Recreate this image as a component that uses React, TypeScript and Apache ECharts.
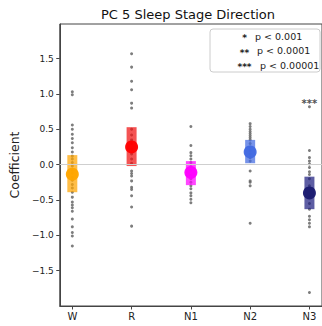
import React, { useEffect, useRef } from "react";
import * as echarts from "echarts";

const categories = ["W", "R", "N1", "N2", "N3"];
const meanColors = ["#FFA500", "#FF0000", "#FF00FF", "#4169E1", "#191970"];
const boxColors = ["#FFA500", "#F01010", "#FF00FF", "#4169E1", "#1E1E80"];

const dotsW = [1.03, 0.99, 0.56, 0.5, 0.43, 0.37, 0.31, 0.24, 0.18, 0.12, 0.08, 0.03, -0.02, -0.08, -0.12, -0.18, -0.22, -0.28, -0.33, -0.39, -0.46, -0.53, -0.57, -0.61, -0.66, -0.77, -0.88, -0.96, -1.01, -1.15];
const dotsR = [1.57, 1.38, 1.18, 1.06, 0.87, 0.8, 0.5, 0.42, 0.35, 0.3, 0.22, 0.15, 0.08, 0.02, -0.09, -0.125, -0.16, -0.23, -0.32, -0.35, -0.44, -0.6, -0.87];
const dotsN1 = [0.54, 0.27, 0.17, 0.125, 0.08, 0.03, -0.03, -0.08, -0.15, -0.2, -0.25, -0.3, -0.34, -0.4, -0.44, -0.49, -0.54];
const dotsN2 = [0.58, 0.54, 0.5, 0.47, 0.44, 0.41, 0.38, 0.35, 0.3, 0.25, 0.2, 0.15, 0.1, 0.05, -0.09, -0.23, -0.25, -0.3, -0.83];
const dotsN3 = [0.82, 0.2, 0.1, 0.05, 0.01, -0.04, -0.1, -0.14, -0.2, -0.3, -0.45, -0.55, -0.63, -0.73, -0.78, -0.83, -0.88, -1.81];
const allDots = [dotsW, dotsR, dotsN1, dotsN2, dotsN3];

const boxLow = [-0.39, -0.02, -0.29, 0.02, -0.63];
const boxHigh = [0.135, 0.53, 0.05, 0.35, -0.17];
const means = [-0.135, 0.25, -0.11, 0.18, -0.4];

const sigMarks = [{ cat: 4, y: 0.86, text: "***" }];
const legendStars = ["*", "**", "***"];
const legendLabels = ["p < 0.001", "p < 0.0001", "p < 0.00001"];

const yTicks = [-1.5, -1, -0.5, 0, 0.5, 1, 1.5];
const FONT = "DejaVu Sans";

export default function App() {
  const ref = useRef<HTMLDivElement>(null);
  useEffect(() => {
    if (!ref.current) return;
    const chart = echarts.init(ref.current, null, { renderer: "svg" });
    const dotData: number[][] = [];
    allDots.forEach((arr, i) => arr.forEach((v) => dotData.push([i, v])));
    const boxData = categories.map((_, i) => [i, boxLow[i], boxHigh[i]]);
    const meanData = categories.map((_, i) => ({
      value: [i, means[i]],
      itemStyle: { color: meanColors[i], opacity: 0.95 },
    }));
    const legendGraphics: any[] = [
      {
        type: "rect",
        shape: { x: 210, y: 29, width: 110, height: 43, r: 3 },
        style: { fill: "rgba(255,255,255,0.85)", stroke: "#cccccc", lineWidth: 1 },
        z: 100,
      },
    ];
    const pX = [255, 257, 260];
    legendStars.forEach((s, i) => {
      legendGraphics.push({
        type: "text",
        x: 244.5,
        y: 38 + i * 14.5,
        z: 101,
        style: { text: s, fontSize: 9, fontWeight: "bold", fontFamily: FONT, fill: "#222", align: "center", verticalAlign: "middle" },
      });
      legendGraphics.push({
        type: "text",
        x: pX[i],
        y: 36 + i * 14.5,
        z: 101,
        style: { text: legendLabels[i], fontSize: 9.5, fontFamily: FONT, fill: "#222", align: "left", verticalAlign: "middle" },
      });
    });
    chart.setOption({
      animation: false,
      backgroundColor: "#ffffff",
      textStyle: { fontFamily: FONT },
      graphic: [
        {
          type: "text",
          x: 188,
          y: 14,
          style: { text: "PC 5 Sleep Stage Direction", fontSize: 13, fontFamily: FONT, fill: "#111", align: "center", verticalAlign: "middle" },
        },
        ...legendGraphics,
      ],
      grid: { left: 53, right: -2, top: 24, bottom: 20, show: true, borderColor: "#444", borderWidth: 1, backgroundColor: "transparent" },
      xAxis: {
        type: "value",
        min: -0.212,
        max: 4.212,
        splitLine: { show: false },
        axisLine: { show: true, onZero: false, lineStyle: { color: "#444", width: 1 } },
        axisTick: { show: true, customValues: [0, 1, 2, 3, 4], length: 3.5, lineStyle: { color: "#444" } },
        axisLabel: {
          customValues: [0, 1, 2, 3, 4],
          formatter: (v: number) => categories[Math.round(v)] ?? "",
          fontSize: 10,
          color: "#222",
          margin: 5,
          fontFamily: FONT,
        },
      },
      yAxis: {
        type: "value",
        min: -2.0,
        max: 1.99,
        name: "Coefficient",
        nameLocation: "middle",
        nameRotate: 90,
        nameGap: 38,
        nameTextStyle: { fontSize: 12.5, color: "#222", fontFamily: FONT },
        splitLine: { show: false },
        axisLine: { show: true, onZero: false, lineStyle: { color: "#444", width: 1 } },
        axisTick: { show: true, customValues: yTicks, length: 3.5, lineStyle: { color: "#444" } },
        axisLabel: {
          customValues: yTicks,
          formatter: (v: number) => (v < 0 ? "\u2212" : "") + Math.abs(v).toFixed(1),
          fontSize: 9,
          color: "#222",
          margin: 6,
          fontFamily: FONT,
        },
      },
      series: [
        {
          type: "scatter",
          data: dotData,
          symbolSize: 3,
          itemStyle: { color: "#666666", opacity: 0.85 },
          z: 2,
          markLine: {
            silent: true,
            symbol: "none",
            label: { show: false },
            lineStyle: { color: "#cfcfcf", width: 1, type: "solid" },
            data: [{ yAxis: 0 }],
          },
        },
        {
          type: "custom",
          data: boxData,
          z: 3,
          renderItem: (params: any, api: any) => {
            const x = api.value(0);
            const lo = api.coord([x, api.value(1)]);
            const hi = api.coord([x, api.value(2)]);
            return {
              type: "rect",
              shape: { x: lo[0] - 5, y: hi[1], width: 10, height: lo[1] - hi[1] },
              style: { fill: boxColors[params.dataIndex], opacity: 0.72 },
            };
          },
        },
        {
          type: "scatter",
          data: meanData,
          symbolSize: 13,
          z: 4,
        },
        {
          type: "scatter",
          data: sigMarks.map((s) => ({ value: [s.cat, s.y], text: s.text })),
          symbolSize: 0,
          z: 5,
          label: {
            show: true,
            position: "inside",
            formatter: (p: any) => p.data.text,
            fontSize: 10,
            fontWeight: "bold",
            color: "#222",
            fontFamily: FONT,
          },
        },
      ],
    });
    return () => chart.dispose();
  }, []);
  return <div ref={ref} style={{ position: "fixed", left: 0, top: 0, width: 322, height: 326 }} />;
}
